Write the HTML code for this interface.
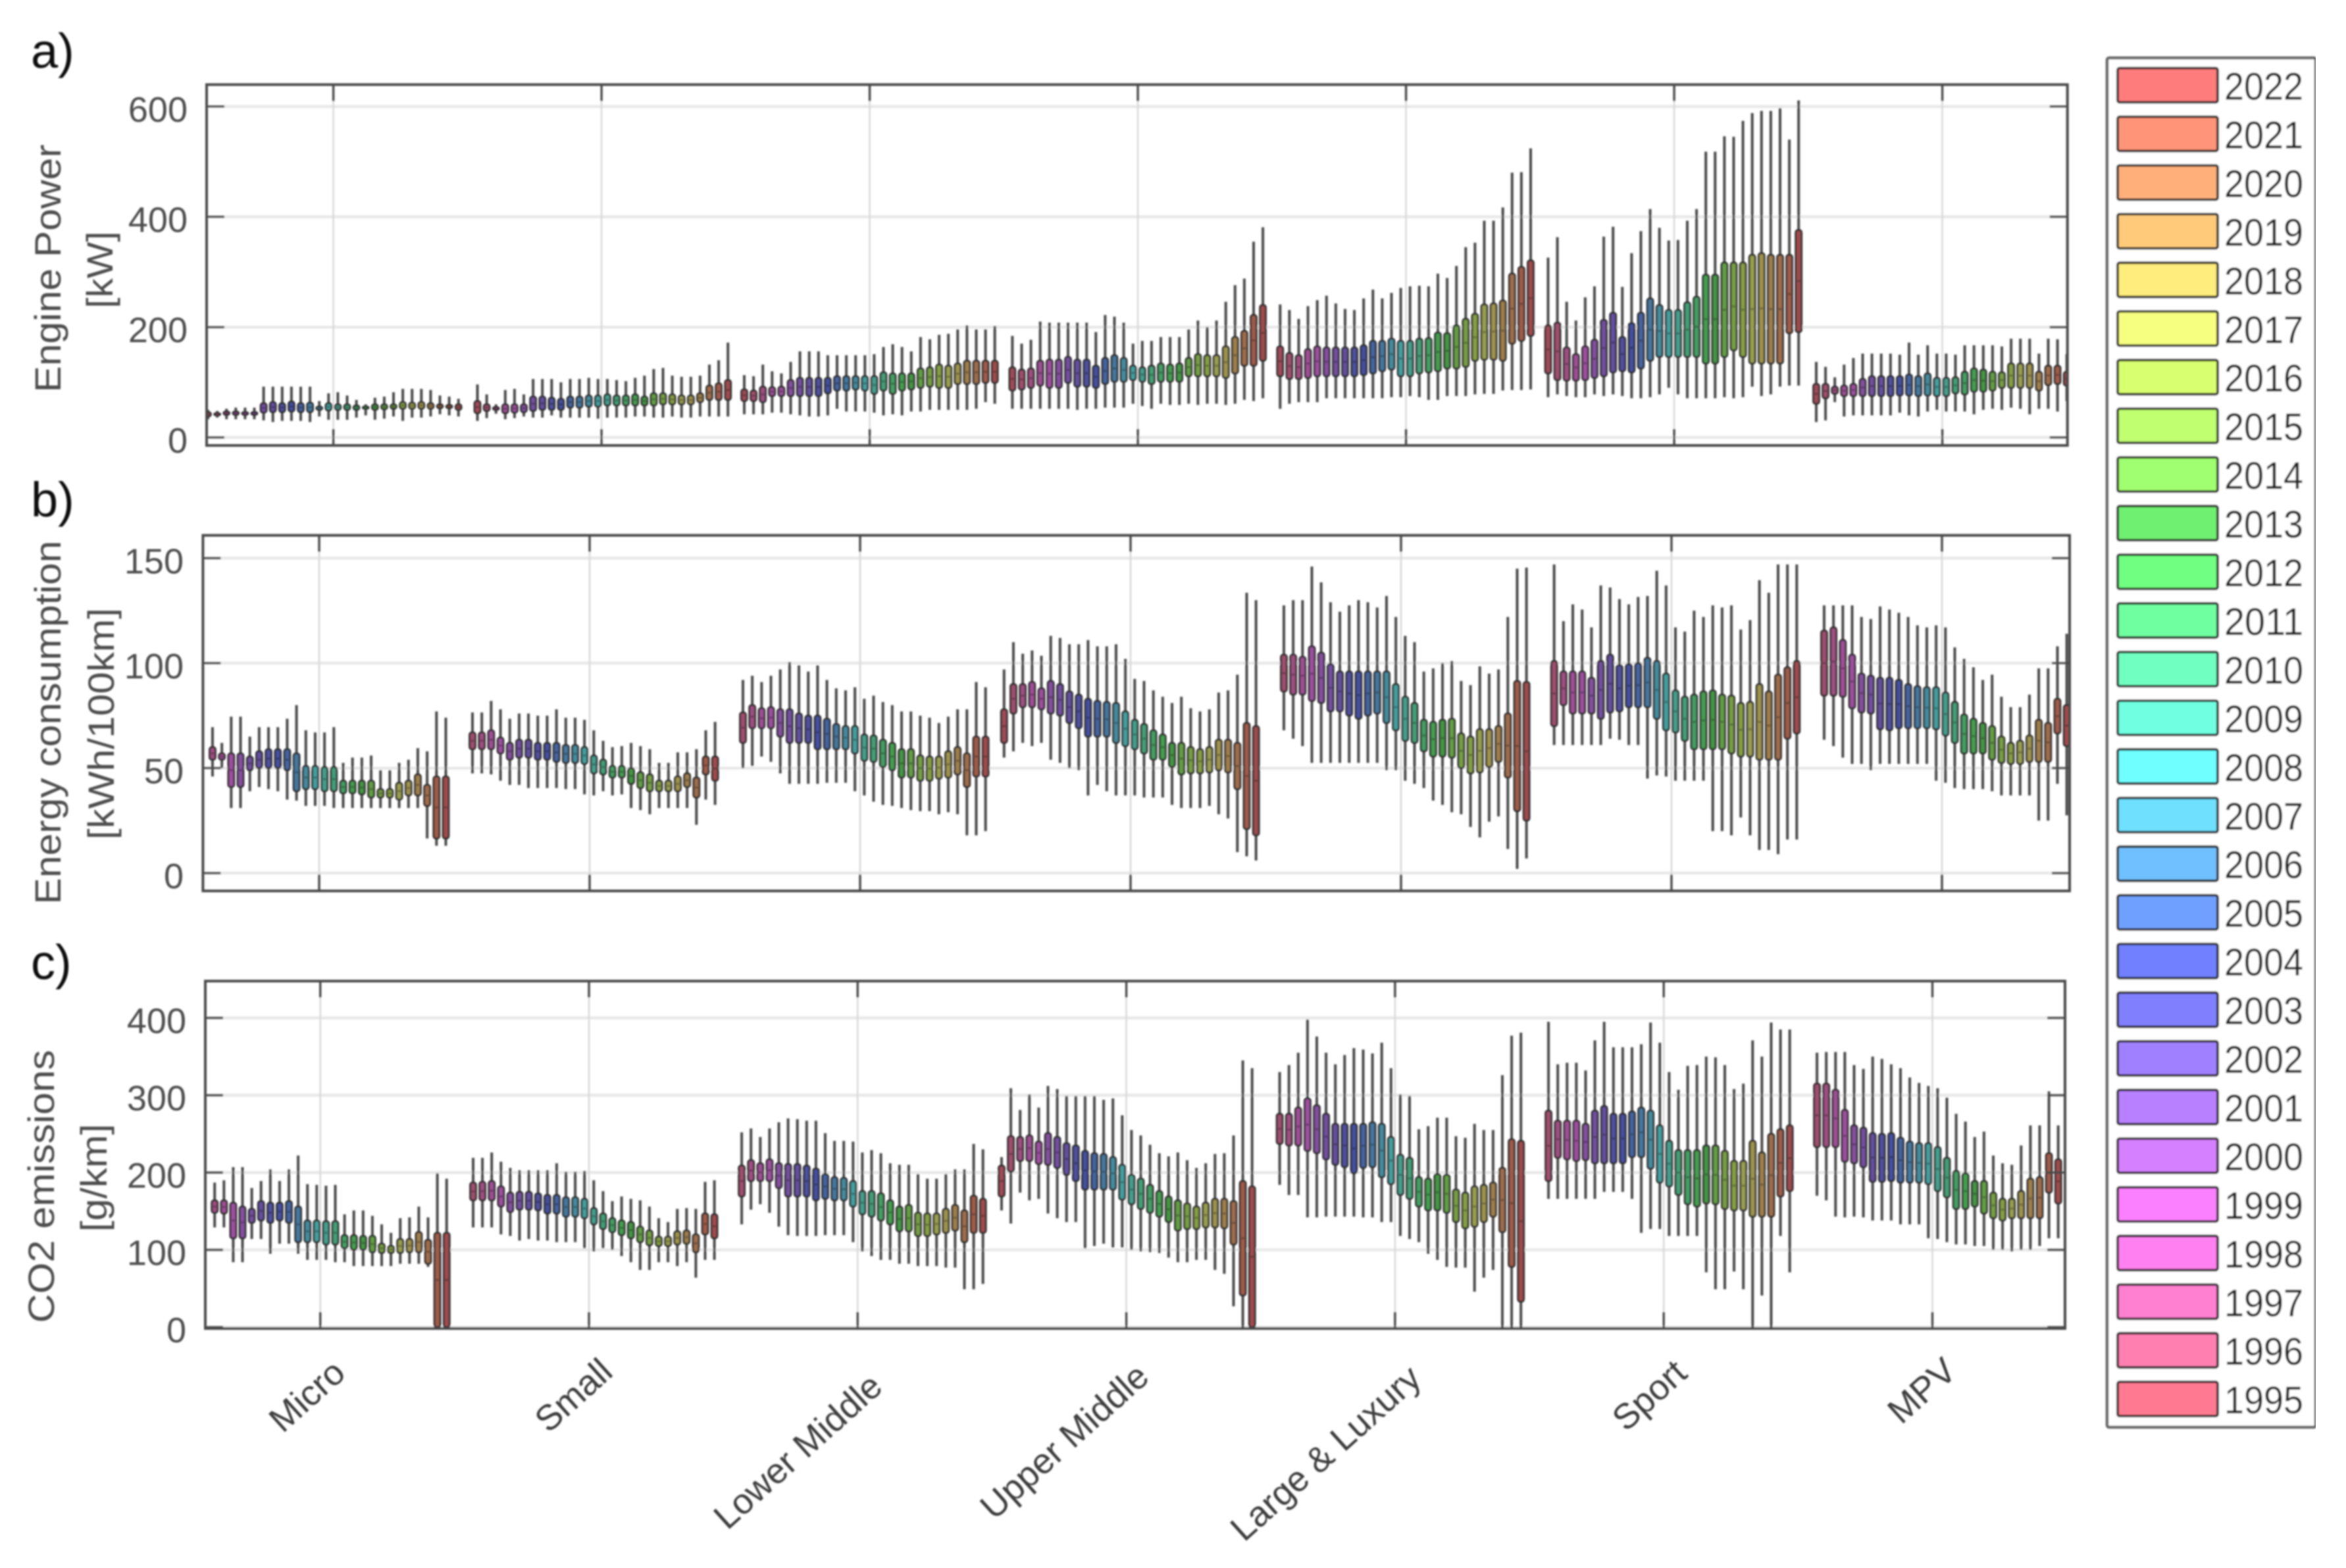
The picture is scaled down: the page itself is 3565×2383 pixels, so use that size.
<!DOCTYPE html>
<html lang="en">
<head>
<meta charset="utf-8">
<title>Engine power, energy consumption and CO2 emissions by segment</title>
<style>
html,body{margin:0;padding:0;background:#fff;}
svg{display:block;font-family:"Liberation Sans",sans-serif;}
</style>
</head>
<body>
<svg id="chart" xmlns="http://www.w3.org/2000/svg" width="3565" height="2383" viewBox="0 0 3565 2383">
<defs>
<filter id="soft" x="0" y="0" width="1" height="1" filterUnits="objectBoundingBox"><feGaussianBlur stdDeviation="1.35"/></filter>
<clipPath id="clip-a"><rect x="314" y="128" width="2828" height="549"/></clipPath>
<clipPath id="clip-b"><rect x="308" y="813" width="2837" height="541"/></clipPath>
<clipPath id="clip-c"><rect x="312" y="1491" width="2826" height="528"/></clipPath>
</defs>
<rect x="0" y="0" width="3565" height="2383" fill="#ffffff"/>
<g id="root" filter="url(#soft)"></g>
</svg>
<script>
// Each box is [upper whisker, upper quartile, lower quartile, lower whisker]; null = year not plotted.
const categories = ["Micro","Small","Lower Middle","Upper Middle","Large & Luxury","Sport","MPV"];
const years = [1995,1996,1997,1998,1999,2000,2001,2002,2003,2004,2005,2006,2007,2008,2009,2010,2011,2012,2013,2014,2015,2016,2017,2018,2019,2020,2021,2022];
const yearColors = ["#ff7a90","#ff80b0","#ff7fd0","#ff80f0","#fb80ff","#d580ff","#b880ff","#a080ff","#8080ff","#7080ff","#70a0ff","#70c0ff","#70e0ff","#70ffff","#70ffe0","#70ffc0","#70ffa0","#70ff80","#70f070","#a0ff70","#c0ff70","#d8ff70","#f7ff80","#ffed7d","#ffcb7a","#ffb07a","#ff9478","#ff7b7d"];
const powerTicks = [0,200,400,600];
const energyTicks = [0,50,100,150];
const co2Ticks = [0,100,200,300,400];

const powerMicro = [[50,46,38,33],[48,44,40,36],[52,47,41,33],[54,47,41,33],[54,46,41,33],[54,46,41,33],[92,62,45,31],[92,64,46,28],[92,62,46,30],[92,65,47,30],[92,62,46,30],[92,63,46,28],[66,56,50,38],[80,62,49,32],[82,60,50,32],[76,60,50,32],[68,58,50,36],[60,56,52,40],[72,60,50,32],[74,60,51,34],[82,60,52,38],[88,64,52,30],[88,63,52,36],[88,64,52,36],[86,62,52,38],[76,60,53,42],[74,59,53,40],[70,60,50,38]];
const powerSmall = [[96,66,44,30],[78,60,48,35],[60,55,50,43],[86,60,44,33],[88,60,45,35],[78,60,46,38],[106,74,48,36],[106,74,50,36],[106,72,50,40],[100,70,50,36],[106,74,54,36],[106,74,54,36],[108,76,56,36],[106,76,56,34],[106,78,58,36],[104,76,58,36],[102,76,58,36],[108,78,58,38],[112,74,58,38],[124,80,58,36],[126,80,60,36],[112,78,60,38],[110,76,60,36],[110,76,60,36],[112,80,64,38],[132,94,68,38],[140,98,68,38],[172,104,68,38]];
const powerLower = [[113,87,66,42],[111,85,66,42],[132,92,64,42],[120,91,75,45],[116,92,75,45],[137,104,75,42],[156,108,75,40],[156,108,75,38],[156,108,75,38],[149,108,80,40],[149,111,85,52],[149,111,85,47],[149,111,87,47],[149,111,85,47],[151,111,79,45],[164,118,85,40],[169,116,79,42],[164,116,85,40],[156,116,87,47],[182,125,90,47],[178,127,92,50],[186,132,90,50],[188,130,90,50],[196,134,97,50],[203,139,97,50],[196,139,97,52],[196,139,99,64],[202,139,99,61]];
const powerUpper = [[184,127,85,52],[170,123,87,52],[177,125,90,52],[210,139,94,52],[208,141,90,52],[208,141,90,52],[208,146,99,52],[208,141,92,50],[208,141,92,52],[191,130,90,52],[222,144,97,54],[219,149,101,54],[208,144,101,54],[170,130,104,61],[175,127,101,57],[175,130,97,52],[182,134,101,61],[182,132,101,59],[182,134,101,59],[196,144,111,61],[212,151,111,59],[200,149,111,61],[212,149,111,61],[246,165,108,59],[276,182,116,61],[288,193,130,68],[355,222,130,66],[381,240,139,71]];
const powerLarge = [[241,165,111,52],[231,153,106,61],[215,149,106,64],[238,160,108,64],[249,165,111,64],[257,163,111,71],[243,163,111,71],[233,163,111,71],[231,163,111,71],[252,167,113,71],[268,175,116,71],[252,175,120,71],[262,179,123,73],[271,175,111,73],[274,175,111,75],[275,179,116,73],[274,180,118,68],[297,190,120,68],[289,189,125,75],[311,203,125,75],[345,215,128,75],[353,224,139,78],[393,241,141,79],[393,243,141,79],[417,248,139,85],[480,297,170,86],[481,309,175,86],[524,321,184,87]];
const powerSport = [[326,203,116,73],[363,208,104,78],[246,163,103,75],[212,151,103,73],[254,165,104,73],[274,177,108,78],[364,213,111,75],[382,226,118,78],[273,182,120,75],[334,207,118,71],[374,226,125,71],[414,252,139,73],[380,240,146,78],[357,231,146,90],[358,231,146,78],[393,245,146,71],[414,255,146,71],[518,295,134,71],[518,295,134,71],[546,317,146,73],[545,317,158,71],[574,317,146,73],[588,331,134,92],[592,334,134,75],[592,331,134,78],[597,331,134,92],[540,331,189,94],[611,376,191,94]];
const powerMPV = [[137,97,61,28],[128,97,71,31],[109,92,79,64],[132,94,75,38],[144,97,75,40],[152,106,75,40],[152,111,75,40],[152,111,75,40],[152,111,75,40],[150,111,76,45],[172,114,76,40],[150,111,75,38],[167,116,76,47],[152,108,75,50],[152,108,75,47],[150,109,80,47],[167,119,78,47],[167,125,83,42],[167,123,83,50],[167,119,85,52],[165,118,90,50],[179,134,90,54],[179,134,90,52],[179,134,90,42],[152,119,85,52],[179,130,95,52],[178,130,97,47],[151,119,94,66]];

const energyMicro = [null,null,[69.5,60,54,46],[62,57,54,50],[74.5,57,41,31],[74.5,57,41,31],[65,55.5,49,39],[69.5,58,50,41],[69.5,59,50,40],[69.5,59,50,39],[73.5,59,49,35],[80,57,39,34.5],[68,51,40,32],[67,51,40,32],[67,50.5,39,32],[69.5,50.5,39,31],[52.5,44,38,31],[55,44,38,31],[55,44,37.5,31],[56,44,36,31],[49,40,36,31],[49,40,36,31],[52.5,43,35,31],[54,44,37,31],[59.5,47,37,31],[58,42,32,16.5],[77,46,16.5,13],[74,46,16.5,13]];
const energySmall = [null,[76.5,67,59,47.5],[76.5,67,59,47.5],[82,68,59,47],[78,64.5,57,44],[73.5,62,54,42],[76,63.5,55,42],[76,63.5,55,40.5],[75,62,54,40.5],[75,62,54,40.5],[78,62,53,40.5],[74,61,52.5,40],[74,61,52.5,40],[73,60,52,37.5],[68,56,47.5,37],[63,54,47,39],[60,51,45.5,37],[60.5,51,45.5,37.5],[62,50,42.5,31],[60.5,48,40.5,30],[59,47,39,28],[52.5,44,39,31],[52.5,44,39,31],[57.5,46,39,31],[57.5,47.5,41,31],[59,45.5,36,23],[68,55.5,47,35],[72,55.5,44,32.5]];
const energyLower = [null,[92,76.5,62,50],[94,80,69,51],[91,78.5,69,55.5],[94,79,69,53],[97,78,65,47.5],[100.5,78,62,42.5],[99,76,62,42.5],[96,75,62,42.5],[99,75,59,42.5],[92,73.5,59,43],[88,71,59,43],[87,70,59,43],[88.5,70,57,39],[83,66,53.5,37],[84.5,65.5,53,34],[81.5,63.5,50.5,32.5],[80,62,49,32],[77,59,45.5,31],[77,59,45.5,30],[75,56,44,29.5],[74,55.5,44,29.5],[71.5,55.5,45,28],[74.5,58,45.5,29],[78,60,47,28],[78,57,41,18],[91,65,46,18],[88.5,65,46,20]];
const energyUpper = [[97,78,62,55],[110,90,76,58],[104.5,90,79,62],[106,91,79,60.5],[103.5,88,78,62],[113,91.5,76,54],[112,90,75,52.5],[109,86.5,71.5,50],[109,85,69,49],[111,83,65,37],[108,82,65,42],[108,81.5,65,39],[109,81,62,37],[102,77,60.5,37],[92.5,73,59,37],[91.5,71,57,36],[87,68,54,36],[84,66,54,36],[81,62,50.5,32.5],[84,62,47,31],[78.5,60,47.5,31],[77,59,47.5,31],[78,60,48,32],[86,63.5,49,28],[87,63.5,48,26],[94.5,62,40,10],[133.5,71.5,21,8],[130,70,18,6]];
const energyLarge = [null,[127.5,104,86.5,68],[130,104,85,64],[130,103,85,60.5],[146,108,82,52.5],[138.5,105,81,52.5],[129,99.5,77,52.5],[124.5,96,77,52.5],[127.5,96,75,52.5],[130,96,73.5,52.5],[129,96,75,52.5],[126.5,96,76,52.5],[132,96,71.5,49],[122,90,68,49],[113,84,63,44],[110,81,62,42.5],[96,73,58,40.5],[97.5,72,55.5,34.5],[100,73,55.5,32.5],[101,73.5,55,29],[91.5,66.5,50,28],[89.5,65,47.5,22],[98.5,68.5,48,17],[95,68.5,50.5,24.5],[97,70,53,27],[122,76,45.5,11.5],[145,91.5,29.5,2],[145.5,91,25,7]];
const energySport = [null,[147,101,70,61],[120,96,80,61],[128,96,76,61],[125.5,96,76,61],[117,93,76,61],[137,101,73.5,61],[136,104,76.5,64],[130.5,99,77,63.5],[128,99.5,79,61],[131.5,100,79,61],[132,102.5,79,45],[144,101,73.5,46.5],[137,95,68,46],[117,87,67,44],[115,84,63,44],[125,85,59,44],[122,86.5,59,44],[127.5,87,59,20],[126.5,85,59,20],[127.5,84.5,57,18],[116,81,55.5,26.5],[120.5,81.5,55.5,18],[139.5,90,54,11],[133.5,86.5,54,11],[147,94.5,54,9],[147,98,64,16],[147,101,66.5,16]];
const energyMPV = [null,[127.5,115.5,84.5,63.5],[127.5,117,84.5,60.5],[127.5,111,84,55],[127.5,104,78.5,52],[122,95,76.5,52],[121,94,76,49],[127,93,68.5,52],[125.5,93,68,52],[124,92,69,52],[122,90,69,52],[118,89,69,52],[117,88.5,69,52],[118,88.5,68.5,44],[117,86,65.5,43],[107.5,81.5,62,40.5],[102,75.5,57,40],[98,73.5,57,40],[92,71.5,57,40],[94.5,70,54,39],[84,65,52.5,37],[79,62,52,37],[79,63,52,37],[85,65.5,53,37],[97.5,73,53,25],[97.5,71.5,53,25],[108,83,66.5,42.5],[114,80,60.5,27.5]];

const co2Micro = [null,null,[187,164,148,129],[190,164,147,129],[207,161,115,84],[207,156,115,84],[180,153,135,114],[189,163,138,114],[204,161,135,95],[189,161,138,108],[204,163,135,108],[222,156,110,95],[185,138,110,87],[184,138,110,87],[183,137,107,87],[184,137,107,84],[146,119,102,84],[151,119,100,79],[151,118,100,79],[144,118,97,79],[133,108,96,79],[122,105,96,79],[141,114,96,82],[142,114,97,82],[156,123,97,82],[142,113,82,78],[199,122,0,0],[192,122,0,0]];
const co2Small = [null,[219,187,164,129],[219,188,164,129],[226,189,164,129],[214,182,156,120],[206,174,149,118],[203,175,152,112],[203,175,152,114],[203,173,151,112],[203,171,147,112],[212,171,147,110],[201,168,143,110],[201,168,143,110],[202,166,141,102],[190,154,133,98],[176,147,127,102],[163,141,123,100],[169,138,119,92],[166,136,115,84],[164,130,110,74],[156,125,106,74],[141,117,105,84],[136,117,105,84],[153,124,107,79],[154,125,108,84],[153,120,97,64],[188,147,120,87],[190,146,115,87]];
const co2Lower = [null,[252,209,169,133],[257,216,189,152],[246,212,189,159],[257,217,189,148],[265,212,180,130],[270,211,169,119],[269,211,169,118],[267,209,169,118],[267,205,164,118],[251,198,166,119],[241,194,164,119],[241,193,164,119],[240,189,156,110],[226,176,146,98],[229,176,143,92],[225,173,138,87],[212,164,133,87],[210,156,124,82],[210,158,124,82],[198,148,118,79],[192,147,118,79],[192,147,120,79],[198,153,122,77],[204,158,125,77],[204,151,110,49],[237,170,122,49],[230,166,122,56]];
const co2Upper = [[220,209,169,151],[309,247,201,134],[281,246,215,174],[301,248,215,164],[284,240,211,166],[312,251,210,147],[308,246,206,141],[299,238,197,136],[299,235,189,136],[299,228,178,102],[299,225,178,105],[294,224,178,108],[296,220,178,103],[274,210,165,103],[255,197,159,100],[248,192,153,98],[236,184,148,97],[225,176,143,96],[221,169,136,90],[226,164,125,84],[216,160,127,84],[206,156,127,87],[212,161,129,87],[224,166,129,74],[225,166,128,69],[248,163,107,27],[345,189,41,0],[335,182,0,0]];
const co2Large = [null,[330,276,237,184],[339,276,235,171],[355,284,235,171],[398,296,228,142],[376,287,225,142],[355,276,217,143],[340,263,210,143],[352,263,207,143],[361,263,199,143],[359,263,206,142],[354,265,207,142],[368,263,194,136],[335,246,185,136],[301,223,171,118],[299,219,166,114],[256,194,156,110],[260,192,151,95],[271,198,151,87],[271,197,148,78],[247,178,136,77],[245,174,128,77],[263,182,130,46],[255,184,136,64],[255,187,143,74],[326,206,123,0],[377,243,78,0],[381,241,33,0]];
const co2Sport = [null,[395,280,189,166],[340,267,219,166],[342,267,217,166],[342,267,215,166],[332,263,216,166],[371,280,212,166],[395,286,212,175],[362,276,212,175],[362,276,212,175],[362,279,220,166],[366,284,220,122],[394,280,205,127],[368,261,187,127],[330,241,182,118],[307,229,171,118],[338,229,159,118],[339,229,156,118],[350,235,160,71],[349,235,159,49],[339,228,153,49],[308,215,151,72],[315,215,151,49],[371,241,143,0],[350,226,143,41],[394,250,143,0],[385,256,169,118],[385,261,176,71]];
const co2MPV = [null,[355,315,233,170],[356,315,233,164],[356,307,233,143],[356,281,214,142],[339,261,212,143],[334,258,207,142],[350,251,188,138],[347,250,188,138],[340,251,189,138],[335,245,187,133],[323,240,187,133],[316,238,187,133],[312,238,185,115],[309,233,176,114],[297,219,168,110],[276,202,153,107],[266,199,153,107],[246,189,156,105],[253,189,147,105],[222,174,141,100],[212,166,138,100],[210,166,141,98],[235,176,141,100],[261,192,141,100],[261,194,141,105],[305,225,174,115],[261,217,160,115]];

const powerGroups = [powerMicro,powerSmall,powerLower,powerUpper,powerLarge,powerSport,powerMPV];
const energyGroups = [energyMicro,energySmall,energyLower,energyUpper,energyLarge,energySport,energyMPV];
const co2Groups = [co2Micro,co2Small,co2Lower,co2Upper,co2Large,co2Sport,co2MPV];

const NS = "http://www.w3.org/2000/svg";
const root = document.getElementById("root");

function make(tag, attrs, parent, text) {
  const el = document.createElementNS(NS, tag);
  for (const k in attrs) el.setAttribute(k, attrs[k]);
  if (text !== undefined) el.textContent = text;
  (parent || root).appendChild(el);
  return el;
}
function shade(hex, f) {
  const n = parseInt(hex.slice(1), 16);
  const r = Math.round(((n >> 16) & 255) * f);
  const g = Math.round(((n >> 8) & 255) * f);
  const b = Math.round((n & 255) * f);
  return "rgb(" + r + "," + g + "," + b + ")";
}

const panels = [
  { id:"a", name:"engine-power", groups:powerGroups, ticks:powerTicks,
    left:314, right:3141.7, top:128.6, bottom:677, y0:664.8, yk:0.8383,
    tickFirst:506.6, tickPitch:407.5, labelRight:285,
    starts:[316,725.5,1131,1538.4,1945.3,2352.5,2760], step:14.1 },
  { id:"b", name:"energy-consumption", groups:energyGroups, ticks:energyTicks,
    left:308.4, right:3145, top:813.6, bottom:1354, y0:1326.9, yk:3.191,
    tickFirst:485, tickPitch:411, labelRight:279,
    starts:[294.6,703.8,1114.8,1525.8,1936.8,2347.5,2757.8], step:14.18 },
  { id:"c", name:"co2-emissions", groups:co2Groups, ticks:co2Ticks,
    left:312, right:3138, top:1491, bottom:2019, y0:2017, yk:1.175,
    tickFirst:486.7, tickPitch:408.3, labelRight:283,
    starts:[298,704.9,1113,1522,1930.5,2339,2747], step:14.1 }
];

panels.forEach(function (p) {
  const yScale = function (v) { return p.y0 - v * p.yk; };
  const xScale = function (g, y) { return p.starts[g] + y * p.step; };
  const plot = make("g", {}, root);
  
  

  p.ticks.forEach(function (t) {
    const y = yScale(t);
    const grid = make("line", { x1:p.left, x2:p.right, y1:y, y2:y, stroke:"#e8e8e8", "stroke-width":4.5 }, plot);
    
    
    const lab = make("text", { x:p.labelRight, y:y + 23, "text-anchor":"end", "font-size":54, fill:"#4e4e4e" }, plot, String(t));
    
    
  });
  categories.forEach(function (c, i) {
    const x = p.tickFirst + i * p.tickPitch;
    const grid = make("line", { x1:x, x2:x, y1:p.top, y2:p.bottom, stroke:"#d8d8d8", "stroke-width":2.5 }, plot);
    
    
  });

  const marks = make("g", { "clip-path":"url(#clip-" + p.id + ")" }, plot);
  
  
  p.groups.forEach(function (group, g) {
    group.forEach(function (box, yi) {
      if (!box) return;
      const x = xScale(g, yi);
      const hi = yScale(box[0]), q3 = yScale(box[1]), q1 = yScale(box[2]), lo = yScale(box[3]);
      const col = yearColors[yi];
      const w = make("line", { x1:x, x2:x, y1:hi, y2:lo, stroke:"#484848", "stroke-width":4 }, marks);
      
      
      const r = make("rect", { x:x - 4.5, y:q3, width:9, height:Math.max(q1 - q3, 3), rx:3.5, fill:shade(col, 0.62), stroke:"#2e2e2e", "stroke-width":2.8 }, marks);
      
      
      const m = make("rect", { x:x - 2, y:(q1 + q3) / 2 - 1.5, width:4, height:3, fill:shade(col, 0.42) }, marks);
      
      
    });
  });

  p.ticks.forEach(function (t) {
    const y = yScale(t);
    const a = make("line", { x1:p.left, x2:p.left + 27, y1:y, y2:y, stroke:"#484848", "stroke-width":3.4 }, plot);
    
    
    const b = make("line", { x1:p.right - 27, x2:p.right, y1:y, y2:y, stroke:"#484848", "stroke-width":3.4 }, plot);
    
    
  });
  categories.forEach(function (c, i) {
    const x = p.tickFirst + i * p.tickPitch;
    const a = make("line", { x1:x, x2:x, y1:p.top, y2:p.top + 25, stroke:"#484848", "stroke-width":3.4 }, plot);
    
    
    const b = make("line", { x1:x, x2:x, y1:p.bottom - 25, y2:p.bottom, stroke:"#484848", "stroke-width":3.4 }, plot);
    
    
  });
  const frame = make("rect", { x:p.left, y:p.top, width:p.right - p.left, height:p.bottom - p.top, fill:"none", stroke:"#484848", "stroke-width":4 }, plot);
  
  
});

// Rotated axis titles: [text, x of baseline, centre y, drawn length]
const titles = [
  ["Engine Power", 92, 408, 377, "y-axis-title-power"],
  ["[kW]", 171, 410, 117, "y-axis-unit-power"],
  ["Energy consumption", 92, 1098, 553, "y-axis-title-energy"],
  ["[kWh/100km]", 173, 1100, 352, "y-axis-unit-energy"],
  ["CO2 emissions", 82, 1803, 415, "y-axis-title-co2"],
  ["[g/km]", 162, 1790, 164, "y-axis-unit-co2"]
];
titles.forEach(function (t) {
  const el = make("text", { x:t[1], y:t[2], transform:"rotate(-90 " + t[1] + " " + t[2] + ")", "text-anchor":"middle", "font-size":56, fill:"#4e4e4e", textLength:t[3], lengthAdjust:"spacingAndGlyphs" }, root, t[0]);
  
  
});

// Category labels under the last panel: centre of each rotated label
const labelCentersX = [466,871,1212,1617,2014,2506,2920];
const labelCentersY = [2121,2120,2205,2190,2208,2120,2113];
categories.forEach(function (c, i) {
  const cx = labelCentersX[i], cy = labelCentersY[i];
  const el = make("text", { x:cx, y:cy + 19, transform:"rotate(-42 " + cx + " " + cy + ")", "text-anchor":"middle", "font-size":54, fill:"#3e3e3e" }, root, c);
  
  
});

const letters = [["a)",47,103,"panel-label-a"],["b)",47,785,"panel-label-b"],["c)",47,1488,"panel-label-c"]];
letters.forEach(function (l) {
  const el = make("text", { x:l[1], y:l[2], "font-size":74, fill:"#111" }, root, l[0]);
  
  
});

const legend = make("g", {}, root);


const legendBox = make("rect", { x:3202, y:88, width:317, height:2081, rx:3, fill:"#fff", stroke:"#666", "stroke-width":4.5 }, legend);


for (let i = 0; i < years.length; i++) {
  const idx = years.length - 1 - i;
  const top = 103.5 + i * 73.95;
  const sw = make("rect", { x:3218, y:top, width:152, height:52, rx:3, fill:yearColors[idx], stroke:"#2a2a2a", "stroke-width":3.8 }, legend);
  
  
  const tx = make("text", { x:3380, y:top + 48, "font-size":58, fill:"#222", textLength:120, lengthAdjust:"spacingAndGlyphs" }, legend, String(years[idx]));
  
  
}
</script>
</body>
</html>
